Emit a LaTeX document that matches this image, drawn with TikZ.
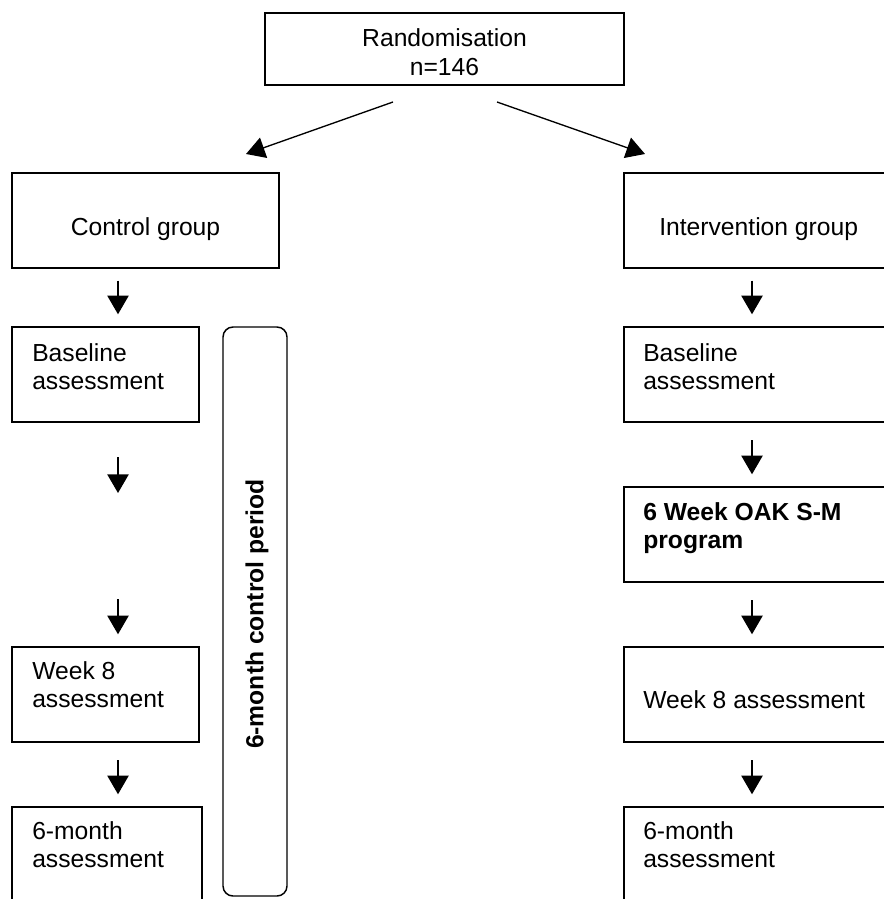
\documentclass[tikz,border=0pt]{standalone}
\usepackage{fontspec}
\setmainfont{Liberation Sans}
\usetikzlibrary{arrows.meta}

\begin{document}
\begin{tikzpicture}[x=0.75pt,y=-0.75pt,font=\fontsize{18.5}{21}\selectfont,
    box/.style={draw,line width=1.1pt,inner sep=0pt,minimum height=71.25pt},
    lbl/.style={anchor=base west,inner sep=0pt,align=left},
    tip/.style={-{Triangle[length=14pt,width=16pt]},line width=1pt},
    down/.style={tip,shorten <=#1,shorten >=9pt},down/.default=13pt]
    \clip (0,0) rectangle (884,899);
    \node[box,minimum width=269.25pt,minimum height=54pt] (rand) at (444.5,49) {};
    \node[box,minimum width=200.25pt] (ctrl) at (145.5,220.5) {};
    \node[box,minimum width=201pt] (intv) at (758,220.5) {};
    \node[box,minimum width=140.25pt] (cbase) at (105.5,374.5) {};
    \node[box,minimum width=140.25pt] (cweek) at (105.5,694.5) {};
    \node[box,minimum width=142.5pt] (cmon) at (107,854.5) {};
    \node[box,minimum width=48pt,minimum height=426.75pt,rounded corners=7.5pt] (period) at (255,611.5) {};
    \node[box,minimum width=201pt] (ibase) at (758,374.5) {};
    \node[box,minimum width=201pt] (iprog) at (758,534.5) {};
    \node[box,minimum width=201pt] (iweek) at (758,694.5) {};
    \node[box,minimum width=201pt] (imon) at (758,854.5) {};

    \node[anchor=base,inner sep=0pt,align=center] (trand) at (444.5,75) {Randomisation\\n=146};
    \node[anchor=base,inner sep=0pt] (tctrl) at (145.5,235) {Control group};
    \node[lbl] (tintv) at (659,235) {Intervention group};
    \node[lbl] (tcbase) at (32,389) {Baseline\\assessment};
    \node[lbl] (tcweek) at (32,707) {Week 8\\assessment};
    \node[lbl] (tcmon) at (32,867) {6-month\\assessment};
    \node[lbl] (tibase) at (643,389) {Baseline\\assessment};
    \node[lbl,font=\bfseries\fontsize{18.5}{21}\selectfont] (tiprog) at (643,548) {6 Week OAK S-M\\program};
    \node[lbl] (tiweek) at (643,708) {Week 8 assessment};
    \node[lbl] (timon) at (643,867) {6-month\\assessment};
    \node[rotate=90,inner sep=0pt,font=\bfseries\fontsize{18.5}{21}\selectfont] (tperiod) at (257,614) {6-month control period};

    \coordinate (lx) at (118,0);
    \coordinate (rx) at (752,0);
    \coordinate (r1) at (393,102);
    \coordinate (r2) at (497,102);
    \coordinate (g1) at (246,154);
    \coordinate (g2) at (645,154);
    \coordinate (a1) at (118,457);
    \coordinate (a2) at (118,493);
    \coordinate (a3) at (118,599);

    \draw[tip] (r1) -- (g1);
    \draw[tip] (r2) -- (g2);
    \draw[down=9pt] (ctrl.south -| lx) -- (cbase.north -| lx);
    \draw[tip] (a1) -- (a2);
    \draw[down=0pt] (a3) -- (cweek.north -| lx);
    \draw[down] (cweek.south -| lx) -- (cmon.north -| lx);
    \draw[down=9pt] (intv.south -| rx) -- (ibase.north -| rx);
    \draw[down] (ibase.south -| rx) -- (iprog.north -| rx);
    \draw[down] (iprog.south -| rx) -- (iweek.north -| rx);
    \draw[down] (iweek.south -| rx) -- (imon.north -| rx);
\end{tikzpicture}
\end{document}
